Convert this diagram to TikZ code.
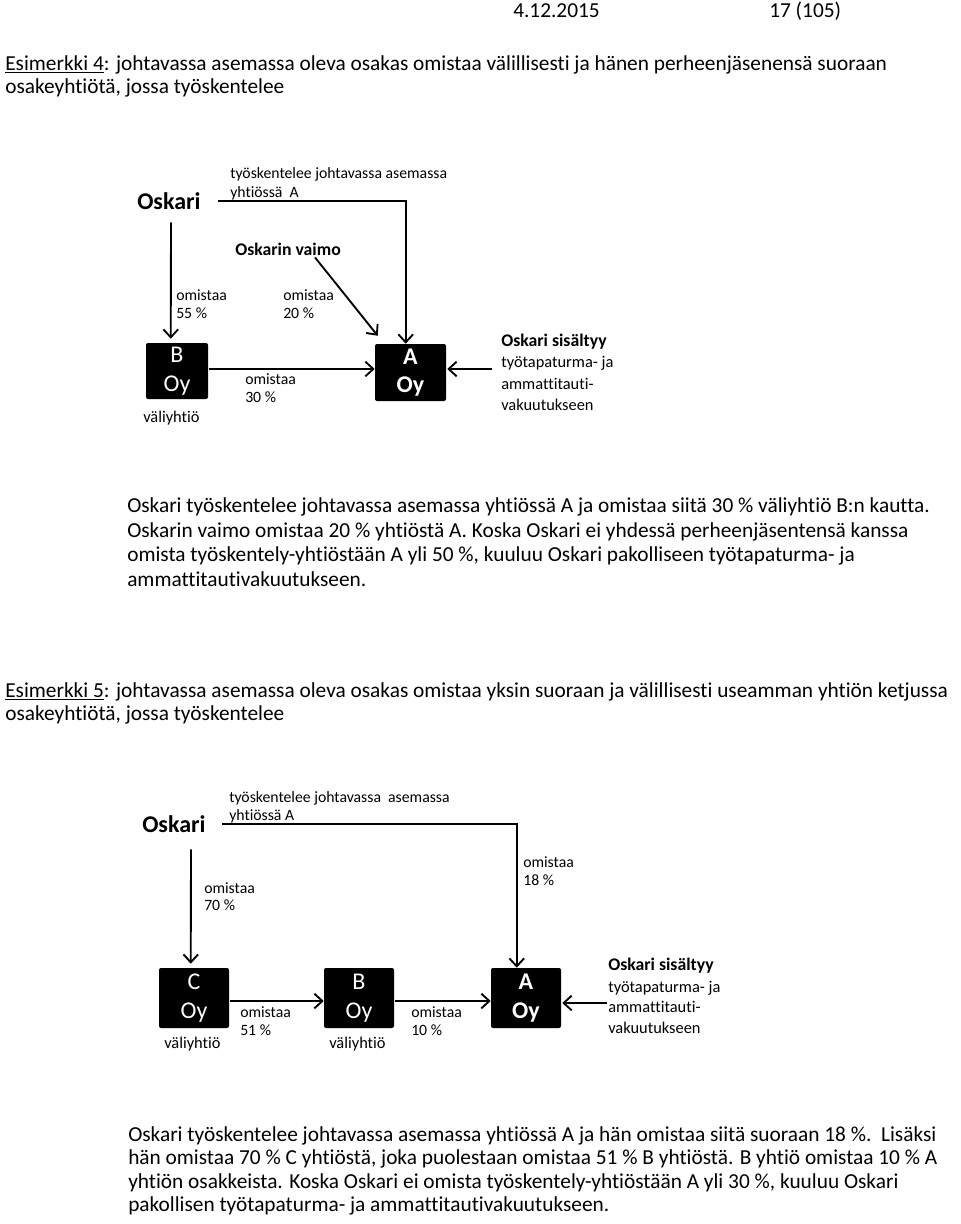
\documentclass[tikz,border=0pt]{standalone}
\usepackage{fontspec}
\setmainfont{Carlito}[Ligatures={NoCommon,NoContextual}]
\usetikzlibrary{arrows.meta,calc}
\tikzset{
  body/.style={anchor=base west, inner sep=0pt, font=\fontsize{16}{19}\selectfont},
  lbl/.style={anchor=base west, inner sep=0pt, font=\fontsize{11.8}{14}\selectfont},
  side/.style={anchor=base west, inner sep=0pt, font=\fontsize{12.3}{14}\selectfont},
  sideb/.style={anchor=base west, inner sep=0pt, font=\fontsize{13.3}{15}\selectfont\bfseries},
  person/.style={anchor=base west, inner sep=0pt, font=\fontsize{18}{20}\selectfont\bfseries},
  company/.style={fill=black, text=white, rounded corners=1.5pt, inner sep=0pt, align=center,
    font=\fontsize{18}{21.5}\selectfont},
  companyb/.style={company, font=\fontsize{18}{21.5}\selectfont\bfseries},
  arr/.style={line width=1.4pt, -{Straight Barb[length=6pt,width=11pt]}},
}
\begin{document}
\begin{tikzpicture}[x=0.75pt,y=-0.75pt]
\fill[white] (0,0) rectangle (960,1224);
\useasboundingbox (0,0) rectangle (960,1224);

% header
\node[body] (date) at (513,17) {4.12.2015};
\node[body] (page) at (769,17) {17 (105)};

% heading 4
\node[body] (h4a) at (5,70) {\underline{Esimerkki 4}: johtavassa asemassa oleva osakas omistaa välillisesti ja hänen perheenjäsenensä suoraan};
\node[body] (h4b) at (5,93) {osakeyhtiötä, jossa työskentelee};

% ---------------- diagram 1
\node[person] (osk1) at (137,209) {Oskari};
\node[lbl] (w1a) at (230,178) {työskentelee johtavassa asemassa};
\node[lbl] (w1b) at (230,197) {yhtiössä\ \ A};
\node[sideb] (vaimo) at (235,255) {Oskarin vaimo};
\node[lbl] (o55a) at (176,300) {omistaa};
\node[lbl] (o55b) at (176,318) {55 \%};
\node[lbl] (o20a) at (283,300) {omistaa};
\node[lbl] (o20b) at (283,318) {20 \%};
\node[company, minimum width=46.5pt, minimum height=42pt] (B1) at (177,371) {B\\Oy};
\node[companyb, minimum width=53.25pt, minimum height=42.75pt] (A1) at (410.5,372.5) {A\\Oy};
\node[lbl] (o30a) at (245,384) {omistaa};
\node[lbl] (o30b) at (245,402) {30 \%};
\node[side] (v1) at (143,422) {väliyhtiö};
\node[sideb] (inc1a) at (501,346) {Oskari sisältyy};
\node[side] (inc1b) at (501,367) {työtapaturma- ja};
\node[side] (inc1c) at (501,389) {ammattitauti-};
\node[side] (inc1d) at (501,410) {vakuutukseen};

\draw[arr] ($(osk1.east)+(17,0)$) -| ($(A1.north west)+(31,0)$);
\draw[arr, shorten >=3pt] ($(osk1.south west)+(34,13)$) -- ($(B1.north west)+(25,0)$);
\draw[arr] ($(vaimo.south west)+(80,2)$) -- ($(A1.north west)+(3,-8)$);
\draw[arr] ($(B1.east)+(1,-2)$) -- ($(A1.west)+(0,-3.5)$);
\draw[arr] ($(A1.east)+(46,-3.5)$) -- ($(A1.east)+(1,-3.5)$);

% paragraph 1
\node[body] (p1a) at (127,512) {Oskari työskentelee johtavassa asemassa yhtiössä A ja omistaa siitä 30 \% väliyhtiö B:n kautta.};
\node[body] (p1b) at (127,537) {Oskarin vaimo omistaa 20 \% yhtiöstä A. Koska Oskari ei yhdessä perheenjäsentensä kanssa};
\node[body] (p1c) at (127,561) {omista työskentely-yhtiöstään A yli 50 \%, kuuluu Oskari pakolliseen työtapaturma- ja};
\node[body] (p1d) at (127,586) {ammattitautivakuutukseen.};

% heading 5
\node[body] (h5a) at (5,697) {\underline{Esimerkki 5}: johtavassa asemassa oleva osakas omistaa yksin suoraan ja välillisesti useamman yhtiön ketjussa};
\node[body] (h5b) at (5,720) {osakeyhtiötä, jossa työskentelee};

% ---------------- diagram 2
\node[person] (osk2) at (142,832) {Oskari};
\node[lbl] (w2a) at (229,802) {työskentelee johtavassa\ \ asemassa};
\node[lbl] (w2b) at (229,820) {yhtiössä A};
\node[lbl] (o70a) at (204,893) {omistaa};
\node[lbl] (o70b) at (204,910) {70 \%};
\node[lbl] (o18a) at (523,867) {omistaa};
\node[lbl] (o18b) at (523,885) {18 \%};
\node[company, minimum width=52.5pt, minimum height=45pt] (C2) at (194,998) {C\\Oy};
\node[company, minimum width=52.5pt, minimum height=45pt] (B2) at (359,998) {B\\Oy};
\node[companyb, minimum width=52.5pt, minimum height=45pt] (A2) at (526,998) {A\\Oy};
\node[side] (v2) at (164,1048) {väliyhtiö};
\node[side] (v3) at (329,1048) {väliyhtiö};
\node[lbl] (o51a) at (240,1017) {omistaa};
\node[lbl] (o51b) at (240,1035) {51 \%};
\node[lbl] (o10a) at (411,1017) {omistaa};
\node[lbl] (o10b) at (411,1035) {10 \%};
\node[sideb] (inc2a) at (608,970) {Oskari sisältyy};
\node[side] (inc2b) at (608,992) {työtapaturma- ja};
\node[side] (inc2c) at (608,1012) {ammattitauti-};
\node[side] (inc2d) at (608,1033) {vakuutukseen};

\draw[arr] ($(osk2.east)+(16,0)$) -| ($(A2.north west)+(26,0)$);
\draw[arr, shorten >=3pt] ($(osk2.south west)+(49,17)$) -- ($(C2.north west)+(32,0)$);
\draw[arr] ($(C2.east)+(1,3)$) -- ($(B2.west)+(0,3)$);
\draw[arr] ($(B2.east)+(1,3)$) -- ($(A2.west)+(0,3)$);
\draw[arr] ($(A2.east)+(46,5)$) -- ($(A2.east)+(1,5)$);

% paragraph 2
\node[body] (p2a) at (128,1141) {Oskari työskentelee johtavassa asemassa yhtiössä A ja hän omistaa siitä suoraan 18 \%.\ \ Lisäksi};
\node[body] (p2b) at (128,1164) {hän omistaa 70 \% C yhtiöstä, joka puolestaan omistaa 51 \% B yhtiöstä. B yhtiö omistaa 10 \% A};
\node[body] (p2c) at (128,1188) {yhtiön osakkeista. Koska Oskari ei omista työskentely-yhtiöstään A yli 30 \%, kuuluu Oskari};
\node[body] (p2d) at (128,1211) {pakollisen työtapaturma- ja ammattitautivakuutukseen.};
\end{tikzpicture}
\end{document}
